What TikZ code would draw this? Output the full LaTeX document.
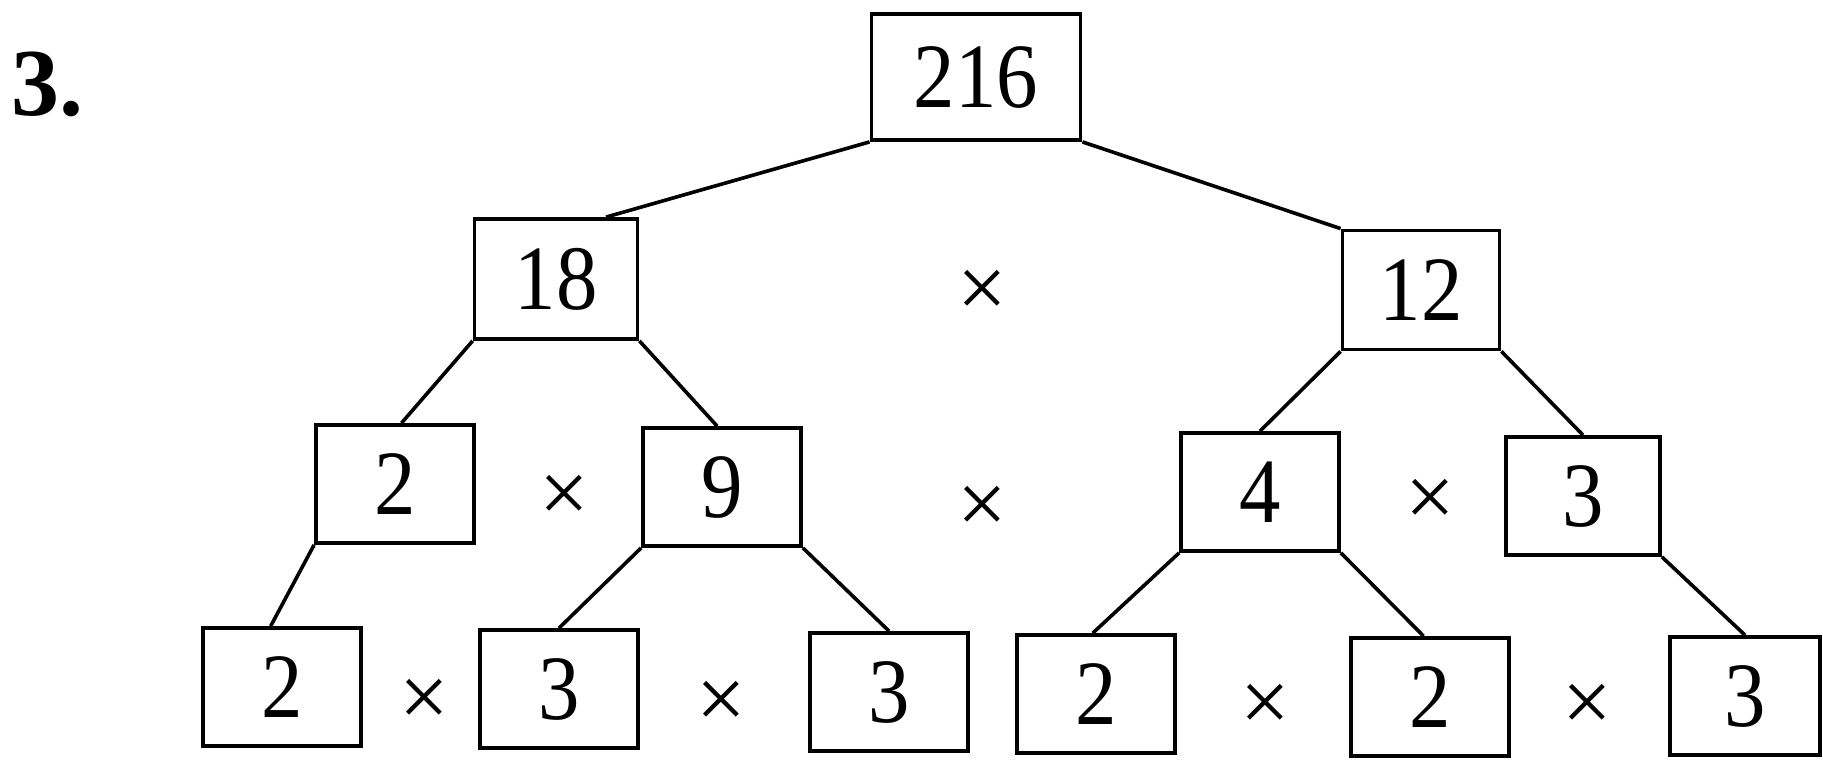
\documentclass[tikz,border=0pt]{standalone}
\usepackage{fontspec}
\setmainfont{Liberation Serif}
\newfontfamily\numfont[FakeStretch=0.9]{Liberation Serif}
\usetikzlibrary{calc}
\begin{document}
\begin{tikzpicture}[x=1pt,y=-1pt,
  numbox/.style={draw,line width=3.8pt,minimum width=158pt,minimum height=118pt,inner sep=0pt,
    font=\fontsize{92}{96}\selectfont\numfont},
  timessign/.style={inner sep=0pt,font=\fontsize{88}{92}\selectfont},
  link/.style={line width=3.6pt}]
\useasboundingbox (0,0) rectangle (1823,763);
\fill[white] (0,0) rectangle (1823,763);
\node[font=\fontsize{96}{100}\selectfont\bfseries,inner sep=0pt] (lbl) at (48,84) {3.};
% level 0
\node[numbox,minimum width=209pt,minimum height=126pt] (A) at (976,77) {216};
% level 1
\node[numbox,minimum width=163pt,minimum height=120pt] (B) at (556,279) {18};
\node[numbox,minimum width=157pt,minimum height=119pt] (C) at (1421,290) {12};
\node[timessign] (x1) at (982,294) {×};
% level 2
\node[numbox] (D) at (395,484) {2};
\node[numbox] (E) at (722,487) {9};
\node[numbox] (F) at (1260,492) {4};
\node[numbox,minimum width=154pt] (G) at (1583,496) {3};
\node[timessign] (x2) at (564,499) {×};
\node[timessign] (x3) at (982,510) {×};
\node[timessign] (x4) at (1430,503) {×};
% level 3
\node[numbox] (H) at (282,687) {2};
\node[numbox] (I) at (559,689) {3};
\node[numbox] (J) at (889,692) {3};
\node[numbox] (K) at (1096,694) {2};
\node[numbox] (L) at (1430,697) {2};
\node[numbox,minimum width=150pt] (M) at (1745,696) {3};
\node[timessign] (x5) at (424,703) {×};
\node[timessign] (x6) at (721,705) {×};
\node[timessign] (x7) at (1265,708) {×};
\node[timessign] (x8) at (1587,708) {×};
% connectors
\draw[link] (A.south west) -- ($(B.north west)!0.8!(B.north east)$);
\draw[link] (A.south east) -- (C.north west);
\draw[link] (B.south west) -- ($(D.north west)!0.54!(D.north east)$);
\draw[link] (B.south east) -- ($(E.north west)!0.47!(E.north east)$);
\draw[link] (C.south west) -- (F.north);
\draw[link] (C.south east) -- (G.north);
\draw[link] (D.south west) -- ($(H.north west)!0.43!(H.north east)$);
\draw[link] (E.south west) -- (I.north);
\draw[link] (E.south east) -- (J.north);
\draw[link] (F.south west) -- ($(K.north west)!0.48!(K.north east)$);
\draw[link] (F.south east) -- ($(L.north west)!0.46!(L.north east)$);
\draw[link] (G.south east) -- (M.north);
\end{tikzpicture}
\end{document}
